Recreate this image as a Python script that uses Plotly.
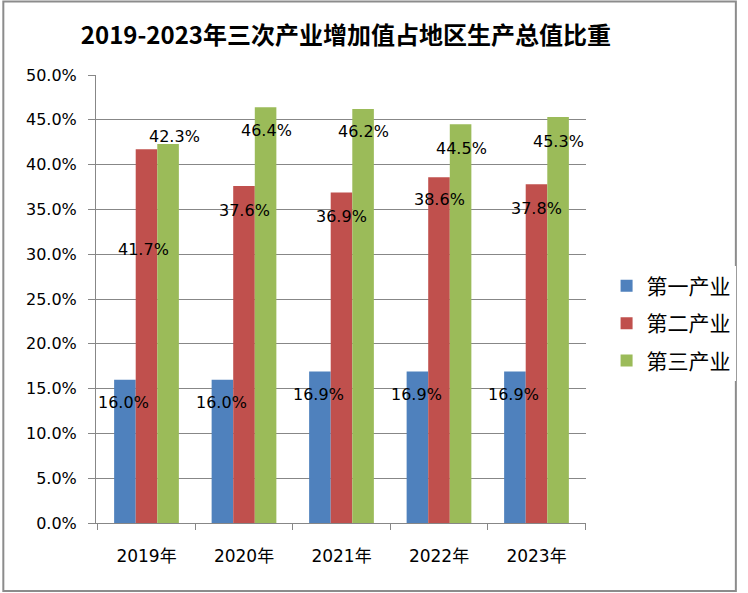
import plotly.graph_objects as go

years = ['2019年', '2020年', '2021年', '2022年', '2023年']
primary = [16.0, 16.0, 16.9, 16.9, 16.9]
secondary = [41.7, 37.6, 36.9, 38.6, 37.8]
tertiary = [42.3, 46.4, 46.2, 44.5, 45.3]
names = ['第一产业', '第二产业', '第三产业']
colors = ['#4F81BD', '#C0504D', '#9BBB59']

# label nudges in pixels (hand placed in the original chart)
label_dx = [[-1] * 5, [-3, 0, 0, 0, 0], [6, 0, 0, 0, 0]]
label_dy = [[-23] * 5, [-100, -24, -24, -22, -24], [7, -23, -22, -24, -24]]
bar_dx = [-22, 0, 22]

fig = go.Figure()
series = [primary, secondary, tertiary]
for i, vals in enumerate(series):
    fig.add_trace(go.Bar(x=years, y=[v / 100 for v in vals], name=names[i],
                         marker=dict(color=colors[i], line=dict(width=0)),
                         legendgroup=str(i)))

annotations = []
for i, vals in enumerate(series):
    for j, v in enumerate(vals):
        annotations.append(dict(x=years[j], y=v / 100, xref='x', yref='y',
                                text='%.1f%%' % v, showarrow=False,
                                xshift=bar_dx[i] + label_dx[i][j],
                                yshift=label_dy[i][j], yanchor='middle',
                                font=dict(family='DejaVu Sans', size=16, color='#000')))

grid = '#878787'
fig.update_layout(
    width=748, height=593,
    margin=dict(l=96, r=155, t=75, b=70),
    paper_bgcolor='white', plot_bgcolor='white',
    barmode='group', bargap=0.336, bargroupgap=0,
    title=dict(text='<b>2019-2023年三次产业增加值占地区生产总值比重</b>',
               xref='paper', x=0.51, xanchor='center',
               y=1 - 36 / 593, yanchor='middle',
               font=dict(family='Noto Sans CJK SC', size=24, color='#000')),
    xaxis=dict(showline=True, linecolor=grid, linewidth=1, ticks='outside',
               ticklen=6, tickcolor=grid, tickson='boundaries',
               ticklabelstandoff=18,
               tickfont=dict(family='DejaVu Sans, Noto Sans CJK SC', size=17, color='#000')),
    yaxis=dict(range=[0, 0.5], dtick=0.05, tickformat='.1%', showgrid=True,
               gridcolor=grid, gridwidth=1, showline=True, linecolor=grid,
               linewidth=1, ticks='outside', ticklen=7, tickcolor=grid,
               zeroline=False, ticklabelstandoff=8,
               tickfont=dict(family='DejaVu Sans', size=16, color='#000')),
    legend=dict(x=1.042, xanchor='left', y=0.446, yanchor='middle',
                tracegroupgap=7, itemwidth=30,
                font=dict(family='Noto Sans CJK SC', size=21, color='#000')),
    annotations=annotations,
    shapes=[dict(type='rect', xref='paper', yref='paper',
                 x0=(2 - 96) / 497, x1=(745 - 96) / 497,
                 y0=(523 - 591) / 448, y1=(523 - 1.5) / 448,
                 line=dict(color='#8c8c8c', width=2), layer='above')],
)

fig.write_html('out.html', config={'displayModeBar': False},
               post_script="document.body.style.margin='0';"
                           "document.documentElement.style.overflow='hidden';")
